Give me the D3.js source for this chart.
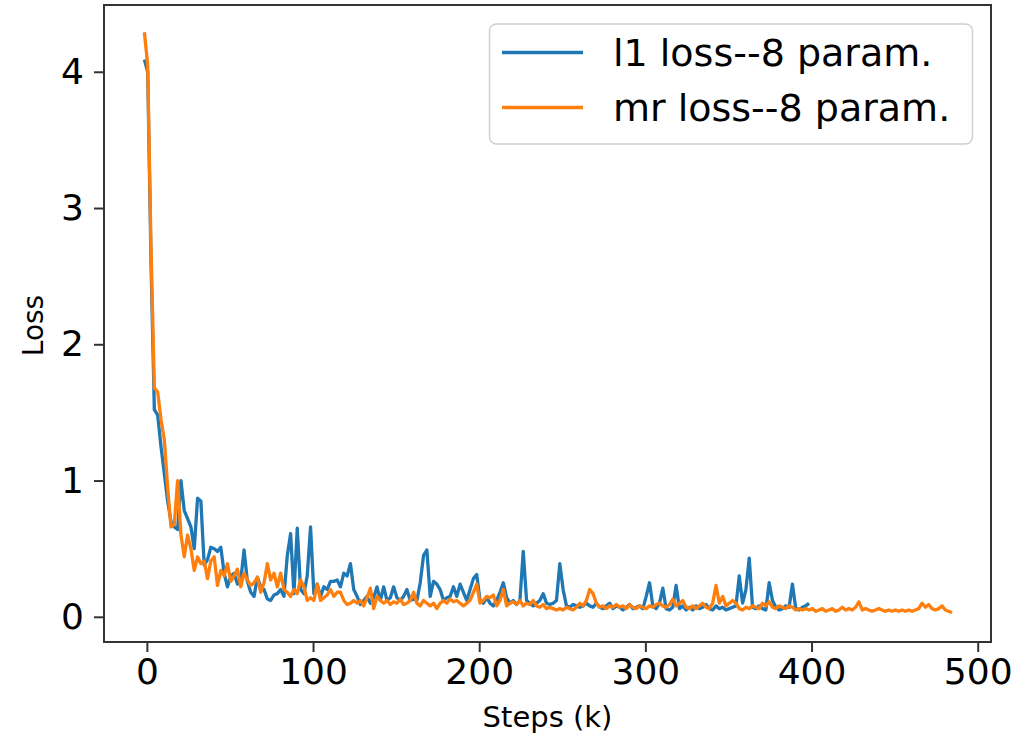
<!DOCTYPE html>
<html>
<head>
<meta charset="utf-8">
<script src="https://cdn.jsdelivr.net/npm/d3@7"></script>
<style>
  body { margin: 0; background: #fff; }
  text { font-family: "DejaVu Sans", sans-serif; fill: #000; }
</style>
</head>
<body>
<div id="chart"></div>
<script>
// steps (k) of the first logged point and spacing between logged points
const firstStep = -1.5;
const stepSize = 2;

// l1 loss -- 8 param.
const l1Loss = [
  4.09, 4.0, 2.6, 1.52, 1.48, 1.25, 1.05, 0.85, 0.7, 0.66,
  0.64, 1.0, 0.78, 0.72, 0.66, 0.5, 0.87, 0.85, 0.38, 0.42,
  0.51, 0.5, 0.48, 0.51, 0.32, 0.22, 0.3, 0.32, 0.24, 0.27,
  0.49, 0.26, 0.18, 0.15, 0.29, 0.22, 0.2, 0.13, 0.12, 0.16,
  0.17, 0.2, 0.15, 0.45, 0.61, 0.17, 0.65, 0.2, 0.17, 0.3,
  0.66, 0.17, 0.24, 0.15, 0.22, 0.2, 0.26, 0.26, 0.27, 0.22,
  0.32, 0.3, 0.39, 0.2, 0.15, 0.09, 0.12, 0.15, 0.1, 0.14,
  0.22, 0.12, 0.22, 0.12, 0.14, 0.22, 0.14, 0.12, 0.15, 0.2,
  0.12, 0.13, 0.12, 0.25, 0.45, 0.49, 0.15, 0.26, 0.24, 0.2,
  0.12, 0.14, 0.15, 0.22, 0.15, 0.24, 0.18, 0.12, 0.2, 0.28,
  0.31, 0.12, 0.1, 0.14, 0.1, 0.08, 0.12, 0.18, 0.25, 0.14,
  0.1, 0.12, 0.09, 0.12, 0.48, 0.12, 0.1, 0.08, 0.1, 0.12,
  0.17, 0.1, 0.09, 0.1, 0.12, 0.39, 0.2, 0.08, 0.07, 0.09,
  0.08, 0.07, 0.08, 0.1, 0.08, 0.07, 0.1, 0.07, 0.06, 0.08,
  0.1, 0.06, 0.08, 0.07, 0.05, 0.07, 0.09, 0.06, 0.07, 0.08,
  0.06, 0.15, 0.25, 0.08, 0.06, 0.1, 0.21, 0.06, 0.05, 0.07,
  0.23, 0.06, 0.08, 0.05, 0.07, 0.05, 0.08, 0.06, 0.07, 0.09,
  0.06, 0.05, 0.08, 0.06, 0.07, 0.05, 0.06, 0.07, 0.08, 0.3,
  0.1, 0.2, 0.43, 0.07, 0.06, 0.08, 0.06, 0.05, 0.25, 0.12,
  0.07, 0.05, 0.06, 0.08, 0.07, 0.24, 0.06, 0.05, 0.07, 0.08,
  0.1
];

// mr loss -- 8 param.
const mrLoss = [
  4.29, 4.05, 2.7, 1.68, 1.65, 1.45, 1.3, 0.95, 0.66, 0.68,
  1.0, 0.6, 0.44, 0.6, 0.5, 0.34, 0.44, 0.39, 0.41, 0.28,
  0.41, 0.44, 0.23, 0.34, 0.3, 0.39, 0.26, 0.3, 0.35, 0.22,
  0.32, 0.27, 0.23, 0.25, 0.29, 0.18, 0.25, 0.39, 0.27, 0.32,
  0.22, 0.32, 0.2, 0.18, 0.15, 0.2, 0.17, 0.27, 0.22, 0.12,
  0.14, 0.12, 0.24, 0.12, 0.14, 0.16, 0.2, 0.15, 0.18, 0.18,
  0.12, 0.09, 0.1, 0.12, 0.1, 0.12, 0.08, 0.14, 0.21, 0.06,
  0.15, 0.12, 0.1, 0.12, 0.09, 0.11, 0.1, 0.13, 0.09, 0.1,
  0.12, 0.18, 0.1, 0.08, 0.12, 0.1, 0.08, 0.1, 0.06, 0.1,
  0.12, 0.1, 0.13, 0.11, 0.12, 0.1, 0.08, 0.1, 0.12, 0.18,
  0.24, 0.1, 0.12, 0.15, 0.14, 0.16, 0.08, 0.12, 0.2, 0.08,
  0.1, 0.11, 0.09, 0.12, 0.08, 0.1, 0.09, 0.12, 0.08, 0.07,
  0.09, 0.06, 0.07, 0.06, 0.05, 0.06, 0.05, 0.07, 0.06, 0.05,
  0.07, 0.1, 0.08, 0.12, 0.2, 0.17, 0.1, 0.07, 0.08, 0.06,
  0.08, 0.07, 0.09, 0.07, 0.08, 0.06, 0.09, 0.07, 0.06, 0.08,
  0.07, 0.06, 0.08, 0.07, 0.09, 0.1, 0.08, 0.07, 0.09, 0.13,
  0.08, 0.1, 0.12, 0.07, 0.06, 0.08, 0.06, 0.08, 0.1, 0.07,
  0.06, 0.1, 0.23, 0.1, 0.15, 0.08, 0.1, 0.12, 0.1, 0.06,
  0.05, 0.07, 0.06, 0.08, 0.07, 0.06, 0.1, 0.08, 0.11, 0.07,
  0.06, 0.08, 0.07, 0.06, 0.08, 0.07, 0.05, 0.06, 0.05, 0.06,
  0.05, 0.06, 0.04, 0.05, 0.06, 0.04, 0.05, 0.06, 0.04, 0.05,
  0.07, 0.05, 0.06, 0.05, 0.07, 0.11, 0.05, 0.06, 0.05, 0.04,
  0.05, 0.06, 0.05, 0.04, 0.05, 0.04, 0.05, 0.04, 0.05, 0.04,
  0.05, 0.04, 0.05, 0.06, 0.1, 0.07, 0.09, 0.06, 0.05, 0.06,
  0.08, 0.05, 0.04, 0.03
];

const xTicks = [0, 100, 200, 300, 400, 500];
const yTicks = [0, 1, 2, 3, 4];

const seriesNames = ["l1 loss--8 param.", "mr loss--8 param."];
const seriesColors = ["#1f77b4", "#ff7f0e"];

var W = 1033, H = 741;
var margin = {top: 5, right: 42, bottom: 99, left: 104},
    width = W - margin.left - margin.right,
    height = H - margin.top - margin.bottom;

var svg = d3.select("#chart").append("svg")
    .attr("width", W)
    .attr("height", H);

var g = svg.append("g")
    .attr("transform", "translate(" + margin.left + "," + margin.top + ")");

// matplotlib-like limits with 5% padding
var x = d3.scaleLinear().domain([-25.8, 508.0]).range([0, width]);
var y = d3.scaleLinear().domain([-0.185, 4.49]).range([height, 0]);

function toPoints(vals) {
  return vals.map(function(v, i) { return [firstStep + i * stepSize, v]; });
}

var line = d3.line()
    .x(function(d) { return x(d[0]); })
    .y(function(d) { return y(d[1]); });

[l1Loss, mrLoss].forEach(function(vals, i) {
  g.append("path")
      .datum(toPoints(vals))
      .attr("fill", "none")
      .attr("stroke", seriesColors[i])
      .attr("stroke-width", 3.3)
      .attr("stroke-linejoin", "round")
      .attr("d", line);
});

// axes
var xAxis = g.append("g")
    .attr("transform", "translate(0," + height + ")")
    .call(d3.axisBottom(x).tickValues(xTicks).tickFormat(d3.format("d"))
      .tickSize(10).tickPadding(6));
var yAxis = g.append("g")
    .call(d3.axisLeft(y).tickValues(yTicks).tickFormat(d3.format("d"))
      .tickSize(10).tickPadding(10));

[xAxis, yAxis].forEach(function(a) {
  a.select(".domain").remove();
  a.selectAll(".tick line").attr("stroke", "#333").attr("stroke-width", 2);
  a.selectAll(".tick text")
      .style("font-family", "DejaVu Sans")
      .style("font-size", "36px")
      .attr("fill", "#111");
});

// frame
g.append("rect")
    .attr("width", width)
    .attr("height", height)
    .attr("fill", "none")
    .attr("stroke", "#333")
    .attr("stroke-width", 2);

// axis labels
svg.append("text")
    .attr("x", margin.left + width / 2)
    .attr("y", 727)
    .attr("text-anchor", "middle")
    .style("font-size", "29px")
    .attr("fill", "#222")
    .text("Steps (k)");

svg.append("text")
    .attr("transform", "translate(43," + (margin.top + height / 2 + 2) + ") rotate(-90)")
    .attr("text-anchor", "middle")
    .style("font-size", "28px")
    .attr("fill", "#222")
    .text("Loss");

// legend
var legend = svg.append("g");
legend.append("rect")
    .attr("x", 489.5)
    .attr("y", 24)
    .attr("width", 483)
    .attr("height", 120)
    .attr("rx", 7)
    .attr("fill", "#fff")
    .attr("fill-opacity", 0.8)
    .attr("stroke", "#d0d0d0")
    .attr("stroke-width", 1.5);

seriesNames.forEach(function(name, i) {
  var cy = 52.5 + i * 55;
  legend.append("line")
      .attr("x1", 502).attr("x2", 583)
      .attr("y1", cy).attr("y2", cy)
      .attr("stroke", seriesColors[i])
      .attr("stroke-width", 3.3);
  legend.append("text")
      .attr("x", 613)
      .attr("y", cy + 13)
      .style("font-size", "38px")
      .attr("fill", "#111")
      .text(name);
});
</script>
</body>
</html>
